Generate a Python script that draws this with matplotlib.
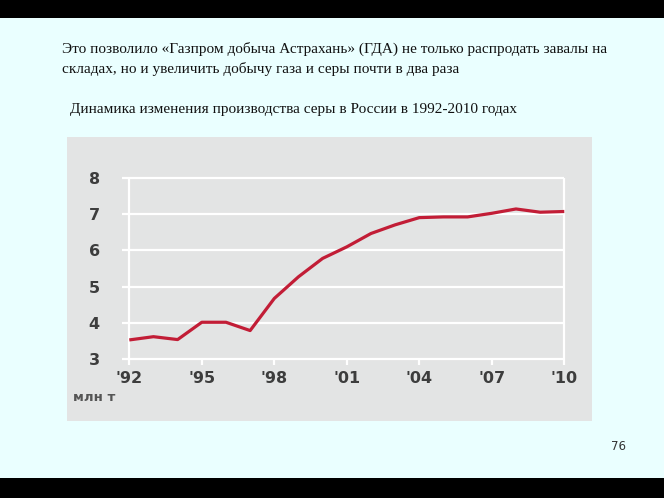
import matplotlib
matplotlib.use("Agg")
import matplotlib.pyplot as plt
from matplotlib.patches import Rectangle

years = [1992, 1993, 1994, 1995, 1996, 1997, 1998, 1999, 2000, 2001,
         2002, 2003, 2004, 2005, 2006, 2007, 2008, 2009, 2010]
sulfur = [3.52, 3.61, 3.53, 4.01, 4.01, 3.78, 4.67, 5.27, 5.78, 6.10,
          6.47, 6.71, 6.91, 6.93, 6.93, 7.03, 7.15, 7.06, 7.08]
xticks = [1992, 1995, 1998, 2001, 2004, 2007, 2010]
xtick_labels = ["'92", "'95", "'98", "'01", "'04", "'07", "'10"]
yticks = [3, 4, 5, 6, 7, 8]
unit_label = "млн т"
heading_lines = ["Это позволило «Газпром добыча Астрахань» (ГДА) не только распродать завалы на",
                 "складах, но и увеличить добычу газа и серы почти в два раза"]
subtitle = "Динамика изменения производства серы в России в 1992-2010 годах"
page_no = "76"

W, H = 664, 498
fig = plt.figure(figsize=(W / 100, H / 100), dpi=100)
fig.patch.set_facecolor("#eaffff")

def fx(px):
    return px / W

def fy(py):
    return 1 - py / H

# black bars
fig.patches.append(Rectangle((0, fy(18.5)), 1, 18.5 / H, transform=fig.transFigure,
                             facecolor="black", edgecolor="none", zorder=0))
fig.patches.append(Rectangle((0, 0), 1, (H - 478) / H, transform=fig.transFigure,
                             facecolor="black", edgecolor="none", zorder=0))
# gray chart panel
fig.patches.append(Rectangle((fx(67), fy(421)), (592 - 67) / W, (421 - 137) / H,
                             transform=fig.transFigure, facecolor="#e3e4e4",
                             edgecolor="none", zorder=0))

serif = ["Liberation Serif", "DejaVu Serif"]
fs_text = 11.0
fig.text(fx(62.5), fy(49), heading_lines[0], family=serif, fontsize=fs_text,
         color="#111111", va="center", ha="left")
fig.text(fx(62.5), fy(68.5), heading_lines[1], family=serif, fontsize=fs_text,
         color="#111111", va="center", ha="left")
fig.text(fx(70), fy(110), subtitle, family=serif, fontsize=fs_text,
         color="#111111", va="center", ha="left")
fig.text(fx(618), fy(447), page_no, family=["DejaVu Sans"], fontsize=8.5,
         color="#333333", va="center", ha="center")

# axes: x from 1991.7 (px 122) to 2010 (px 564.3), y 3 (px 358.7) to 8 (px 178.3)
ppy = (564.3 - 129.3) / 18.0
x0 = 1991.7
left_px = 129.3 - (1992 - x0) * ppy
ax = fig.add_axes([fx(left_px), fy(358.7), (564.3 - left_px) / W, (358.7 - 178.3) / H])
ax.set_zorder(5)
ax.set_facecolor("none")
ax.set_xlim(x0, 2010)
ax.set_ylim(3, 8)
for s in ax.spines.values():
    s.set_visible(False)

ax.hlines(yticks, x0, 2010, colors="white", lw=1.6, clip_on=False, zorder=1)
ax.vlines([1992, 2010], 3, 8, colors="white", lw=1.6, clip_on=False, zorder=1)

ax.plot(years, sulfur, color="#c21d36", lw=2.3, solid_joinstyle="round",
        solid_capstyle="butt", clip_on=False, zorder=3)

lab_font = dict(family=["DejaVu Sans"], fontsize=11.5, color="#3d3d3d", fontweight="bold")
ax.set_xticks(xticks)
ax.set_xticklabels(xtick_labels, **lab_font)
ax.set_yticks(yticks)
ax.set_yticklabels([str(v) for v in yticks], **lab_font)
ax.tick_params(axis="x", length=4, width=1.6, color="white", pad=4.5)
ax.tick_params(axis="y", length=0, pad=16)

fig.text(fx(73), fy(397), unit_label, family=["DejaVu Sans"], fontsize=9.5,
         fontweight="bold", color="#555555", va="center", ha="left", zorder=6)

fig.savefig("out.png", dpi=100, facecolor=fig.get_facecolor())
